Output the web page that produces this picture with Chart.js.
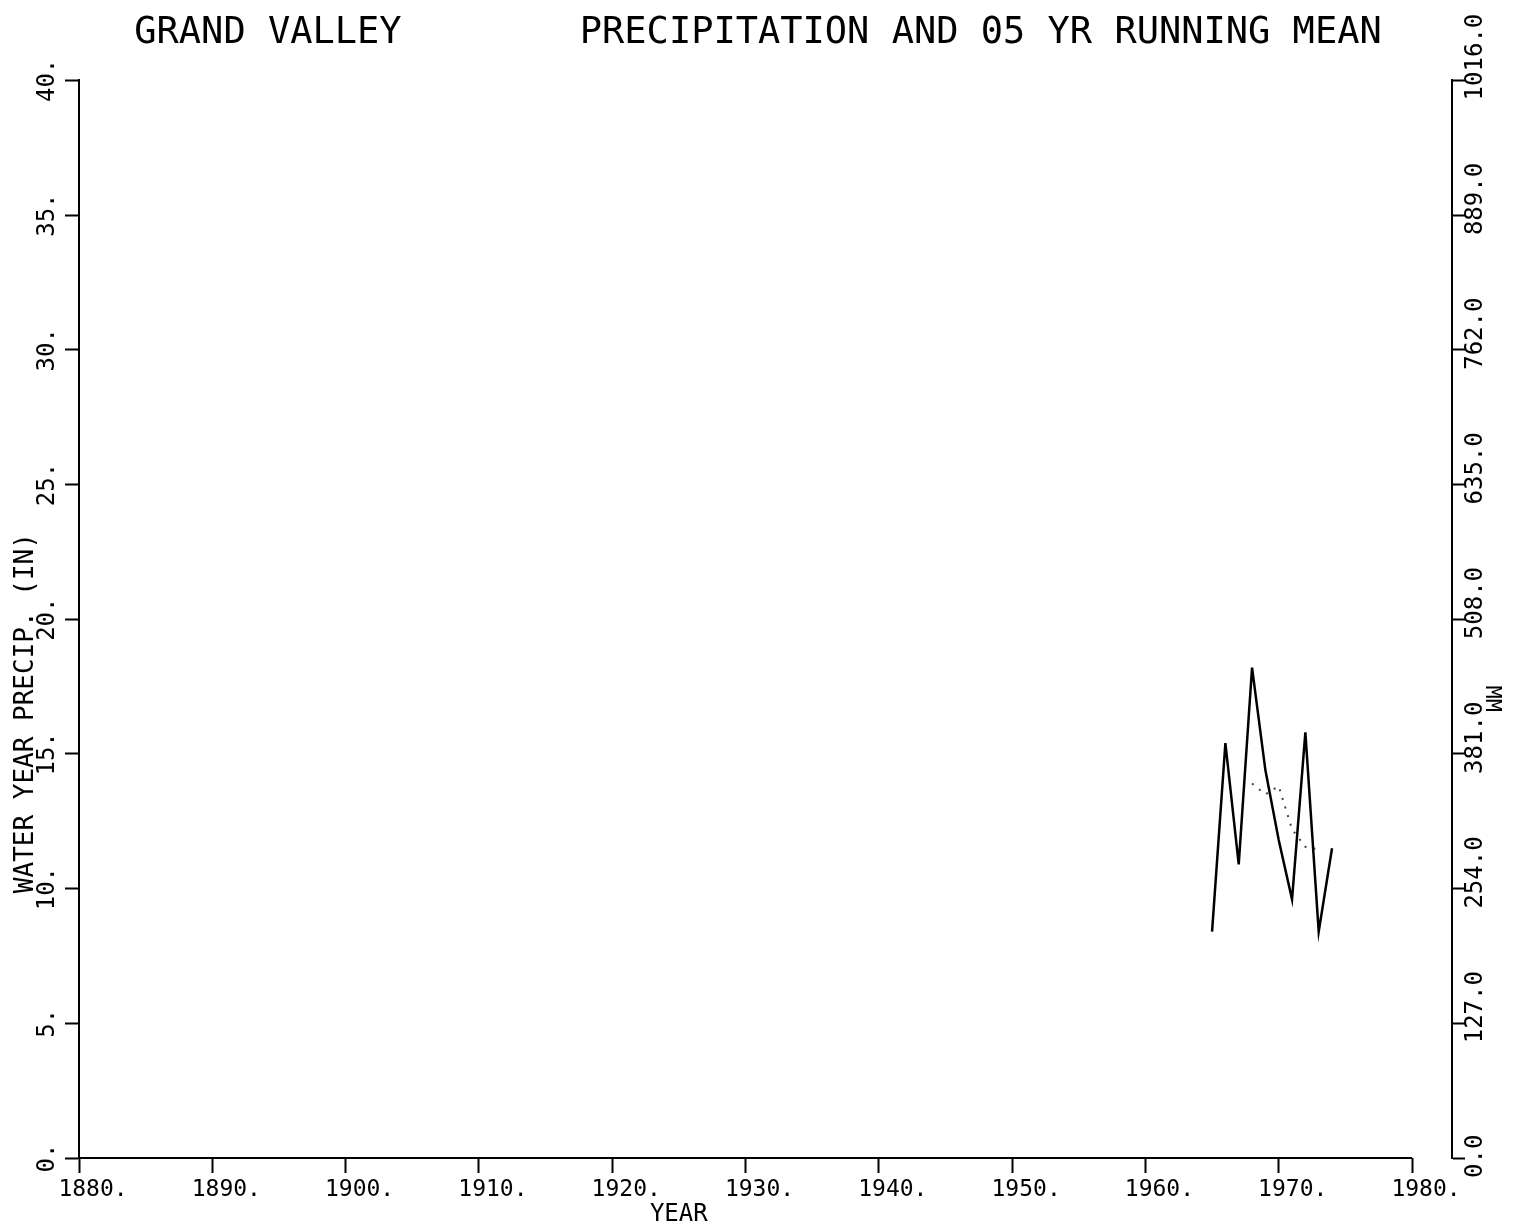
<!DOCTYPE html>
<html>
<head>
<meta charset="utf-8">
<title>Grand Valley precipitation</title>
<script src="https://cdn.jsdelivr.net/npm/chart.js@4.4.1/dist/chart.umd.min.js"></script>
<style>
  html, body { margin: 0; padding: 0; background: #fff; }
  #wrap { width: 1516px; height: 1229px; }
</style>
</head>
<body>
<div id="wrap"><canvas id="chart"></canvas></div>
<script>
// water year precipitation, inches
const precipYears = [1965, 1966, 1967, 1968, 1969, 1970, 1971, 1972, 1973, 1974];
const precipInches = [8.4, 15.4, 10.9, 18.2, 14.4, 11.8, 9.6, 15.8, 8.4, 11.5];

// 05 yr running mean (dotted)
const meanYears = [1968, 1969, 1970, 1971, 1972, 1973];
const meanInches = [13.9, 13.5, 13.8, 12.2, 11.55, 11.45];

const yearTicks = [1880, 1890, 1900, 1910, 1920, 1930, 1940, 1950, 1960, 1970, 1980];
const inchTicks = [0, 5, 10, 15, 20, 25, 30, 35, 40];
const mmTicks = [0, 127, 254, 381, 508, 635, 762, 889, 1016];

const mono = "'DejaVu Sans Mono', monospace";
Chart.defaults.font.family = mono;
Chart.defaults.color = "#000";

function toPoints(xs, ys) {
  return xs.map((x, i) => ({ x: x, y: ys[i] }));
}

// bottom axis line only runs from the first to the last year tick
const xAxisLine = {
  id: "xAxisLine",
  afterDraw(chart) {
    const x = chart.scales.x;
    const ctx = chart.ctx;
    ctx.save();
    ctx.strokeStyle = "#000";
    ctx.lineWidth = 2;
    ctx.beginPath();
    ctx.moveTo(x.getPixelForValue(yearTicks[0]), chart.chartArea.bottom);
    ctx.lineTo(x.getPixelForValue(yearTicks[yearTicks.length - 1]), chart.chartArea.bottom);
    ctx.stroke();
    ctx.restore();
  },
};

const ctx = document.getElementById("chart").getContext("2d");

new Chart(ctx, {
  type: "line",
  data: {
    datasets: [
      {
        label: "Precipitation",
        data: toPoints(precipYears, precipInches),
        borderColor: "#000",
        borderWidth: 2.5,
        pointRadius: 0,
        tension: 0,
        yAxisID: "y",
      },
      {
        label: "05 yr running mean",
        data: toPoints(meanYears, meanInches),
        borderColor: "#444",
        borderWidth: 2,
        borderDash: [2, 7],
        pointRadius: 0,
        tension: 0,
        yAxisID: "y",
      },
    ],
  },
  options: {
    responsive: true,
    maintainAspectRatio: false,
    animation: false,
    layout: { padding: 0 },
    plugins: {
      legend: { display: false },
      tooltip: { enabled: false },
      title: {
        display: true,
        text: "GRAND VALLEY        PRECIPITATION AND 05 YR RUNNING MEAN",
        color: "#000",
        font: { family: mono, size: 37, weight: "normal" },
        padding: { top: 11, bottom: 25 },
      },
    },
    scales: {
      x: {
        type: "linear",
        min: 1880,
        max: 1983,
        afterBuildTicks: (s) => { s.ticks = yearTicks.map((v) => ({ value: v })); },
        afterFit: (s) => { s.height = 71; },
        border: { display: false },
        grid: { drawOnChartArea: false, drawTicks: true, tickLength: 15, tickWidth: 2, color: "#000" },
        ticks: {
          font: { size: 23 },
          padding: 3,
          labelOffset: 14,
          maxRotation: 0,
          minRotation: 0,
          callback: (v) => v + ".",
        },
        title: {
          display: true,
          text: "YEAR" + " ".repeat(12),
          font: { size: 24 },
          padding: { top: 0, bottom: 0 },
        },
      },
      y: {
        type: "linear",
        position: "left",
        min: 0,
        max: 40,
        afterBuildTicks: (s) => { s.ticks = inchTicks.map((v) => ({ value: v })); },
        afterFit: (s) => { s.width = 79; },
        border: { display: true, color: "#000", width: 2 },
        grid: { drawOnChartArea: false, drawTicks: true, tickLength: 14, tickWidth: 2, color: "#000" },
        ticks: {
          font: { size: 24 },
          minRotation: 90,
          maxRotation: 90,
          crossAlign: "center",
          padding: -4,
          callback: (v) => v + ".",
        },
        title: {
          display: true,
          text: "WATER YEAR PRECIP. (IN)" + " ".repeat(12),
          font: { size: 26 },
          padding: { top: 11, bottom: 0 },
        },
      },
      y2: {
        type: "linear",
        position: "right",
        min: 0,
        max: 1016,
        afterBuildTicks: (s) => { s.ticks = mmTicks.map((v) => ({ value: v })); },
        afterFit: (s) => { s.width = 64; },
        border: { display: true, color: "#000", width: 2 },
        grid: { drawOnChartArea: false, drawTicks: true, tickLength: 13, tickWidth: 2, color: "#000" },
        ticks: {
          font: { size: 24 },
          minRotation: 90,
          maxRotation: 90,
          crossAlign: "near",
          padding: 11,
          labelOffset: 20,
          callback: (v) => v.toFixed(1),
        },
        title: {
          display: true,
          text: " ".repeat(12) + "MM",
          font: { size: 22 },
          padding: { top: 11, bottom: 0 },
        },
      },
    },
  },
  plugins: [xAxisLine],
});
</script>
</body>
</html>
